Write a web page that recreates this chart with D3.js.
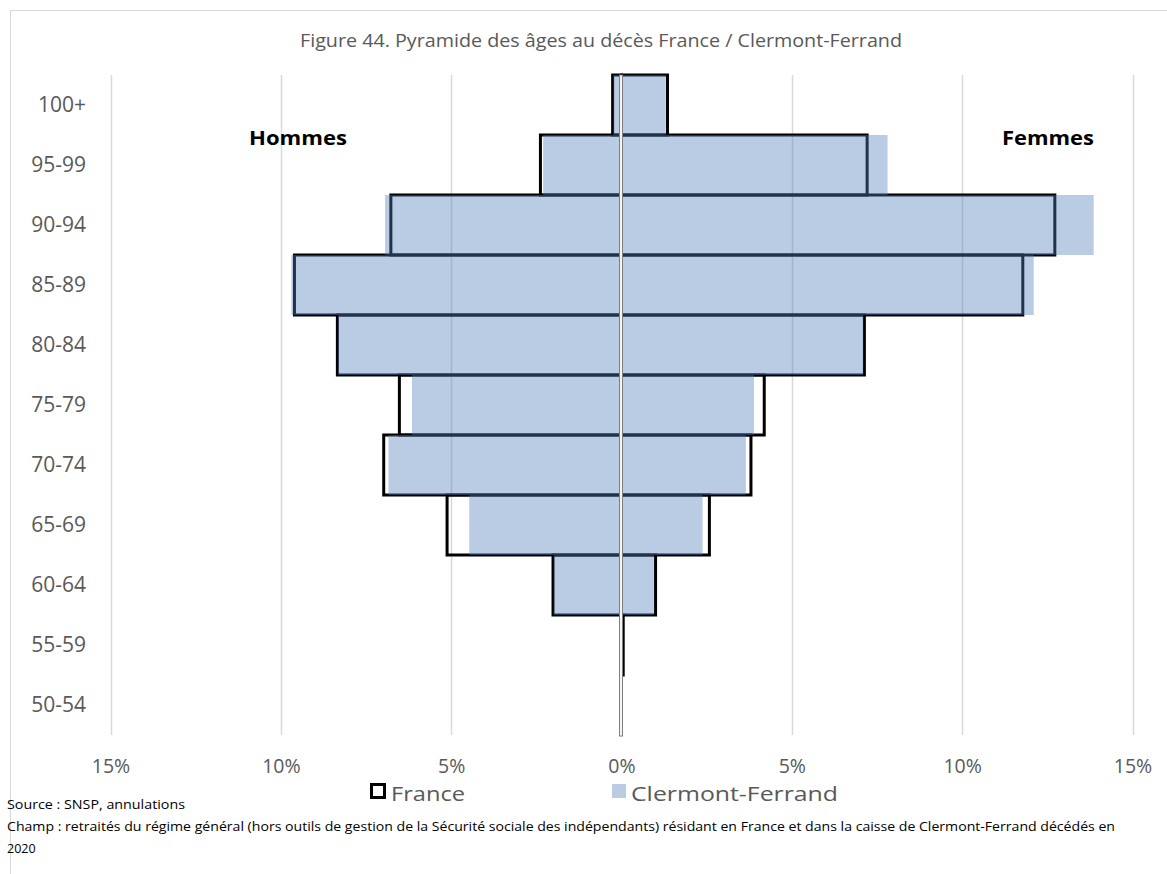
<!DOCTYPE html>
<html><head><meta charset="utf-8">
<script src="https://cdn.jsdelivr.net/npm/d3@7"></script>
<style>
html,body{margin:0;padding:0;background:#fff;overflow:hidden}
svg{display:block;font-family:"Open Sans",Lato,sans-serif}
</style></head>
<body>
<svg id="c" width="1167" height="874"></svg>
<script>
const categories = ["100+","95-99","90-94","85-89","80-84","75-79","70-74","65-69","60-64","55-59","50-54"];
const franceHommes = [0.26, 2.38, 6.77, 9.60, 8.34, 6.52, 6.98, 5.12, 2.01, 0.02, 0.00];
const franceFemmes = [1.35, 7.21, 12.72, 11.78, 7.13, 4.19, 3.80, 2.58, 1.00, 0.05, 0.00];
const clermontHommes = [0.24, 2.30, 6.94, 9.69, 8.32, 6.15, 6.84, 4.47, 1.99, 0.00, 0.00];
const clermontFemmes = [1.30, 7.81, 13.86, 12.10, 7.10, 3.89, 3.65, 2.38, 0.95, 0.00, 0.00];
const tickValues = [-15,-10,-5,0,5,10,15];
const title = "Figure 44. Pyramide des âges au décès France / Clermont-Ferrand";
const seriesNames = ["France","Clermont-Ferrand"];
const sideLabels = ["Hommes","Femmes"];
const sourceText = "Source : SNSP, annulations";
const champText = "Champ : retraités du régime général (hors outils de gestion de la Sécurité sociale des indépendants) résidant en France et dans la caisse de Clermont-Ferrand décédés en";
const champText2 = "2020";

const blue = "#5080BC", blueOp = 0.4;
const svg = d3.select("#c");
const x = d3.scaleLinear().domain([-15,15]).range([110.5,1132.5]);
const y = d3.scaleBand().domain(categories).range([75,735]).padding(0);

// frame
svg.append("rect").attr("x",10.5).attr("y",10.5).attr("width",1200).attr("height",1000)
  .attr("fill","none").attr("stroke","#d9d9d9").attr("stroke-width",1);

// title
svg.append("text").attr("x",601).attr("y",47).attr("text-anchor","middle")
  .attr("font-size",18.5).attr("fill","#595959")
  .attr("textLength",602).attr("lengthAdjust","spacingAndGlyphs").text(title);

// gridlines
svg.append("g").selectAll("line").data(tickValues.filter(d=>d!==0)).join("line")
  .attr("x1",d=>Math.round(x(d))+0.5).attr("x2",d=>Math.round(x(d))+0.5)
  .attr("y1",75).attr("y2",735).attr("stroke","#d9d9d9").attr("stroke-width",1.5);

// x axis tick labels
const xAxis = d3.axisBottom(x).tickValues(tickValues).tickSize(0).tickPadding(0)
  .tickFormat(d=>Math.abs(d)+"%");
const gx = svg.append("g").attr("transform","translate(0,773)").call(xAxis);
gx.select(".domain").remove();
gx.selectAll("text").attr("font-size",19.5).attr("fill","#595959")
  .attr("font-family","'Open Sans',sans-serif").attr("dy",0);

// y axis labels
const yAxis = d3.axisLeft(y).tickSize(0).tickPadding(0);
const gy = svg.append("g").attr("transform","translate(86,0)").call(yAxis);
gy.select(".domain").remove();
gy.selectAll("text").attr("font-size",21).attr("fill","#595959")
  .attr("font-family","'Open Sans',sans-serif");

// France bars (outline only)
const fr = categories.map((c,i)=>({c, h:franceHommes[i], f:franceFemmes[i]}));
const cl = categories.map((c,i)=>({c, h:clermontHommes[i], f:clermontFemmes[i]}));
const gF = svg.append("g");
gF.selectAll("rect.h").data(fr.filter(d=>d.h>0)).join("rect")
  .attr("x",d=>x(-d.h)).attr("width",d=>x(0)-x(-d.h))
  .attr("y",d=>y(d.c)).attr("height",y.bandwidth())
  .attr("fill","none").attr("stroke","#000").attr("stroke-width",3);
gF.selectAll("rect.f").data(fr.filter(d=>d.f>0)).join("rect")
  .attr("x",x(0)).attr("width",d=>x(d.f)-x(0))
  .attr("y",d=>y(d.c)).attr("height",y.bandwidth())
  .attr("fill","none").attr("stroke","#000").attr("stroke-width",3);

// Clermont bars
const gC = svg.append("g");
gC.selectAll("rect.h").data(cl.filter(d=>d.h>0)).join("rect")
  .attr("x",d=>x(-d.h)).attr("width",d=>x(0)-x(-d.h))
  .attr("y",d=>y(d.c)).attr("height",y.bandwidth())
  .attr("fill",blue).attr("fill-opacity",blueOp);
gC.selectAll("rect.f").data(cl.filter(d=>d.f>0)).join("rect")
  .attr("x",x(0)).attr("width",d=>x(d.f)-x(0))
  .attr("y",d=>y(d.c)).attr("height",y.bandwidth())
  .attr("fill",blue).attr("fill-opacity",blueOp);

// centre axis line
svg.append("rect").attr("x",x(0)-2).attr("y",75).attr("width",3).attr("height",661)
  .attr("fill","#f4f4f4").attr("stroke","#7f7f7f").attr("stroke-width",1);

// side labels
svg.append("text").attr("x",298).attr("y",145).attr("text-anchor","middle")
  .attr("font-size",20).attr("font-weight","bold").attr("fill","#000")
  .attr("textLength",98).attr("lengthAdjust","spacingAndGlyphs").text(sideLabels[0]);
svg.append("text").attr("x",1048).attr("y",145).attr("text-anchor","middle")
  .attr("font-size",20).attr("font-weight","bold").attr("fill","#000")
  .attr("textLength",92).attr("lengthAdjust","spacingAndGlyphs").text(sideLabels[1]);

// legend
const lg = svg.append("g");
lg.append("rect").attr("x",371.5).attr("y",784.5).attr("width",13).attr("height",13)
  .attr("fill","#fff").attr("stroke","#000").attr("stroke-width",3);
lg.append("text").attr("x",391).attr("y",801).attr("font-size",20.5).attr("fill","#595959")
  .attr("textLength",74).attr("lengthAdjust","spacingAndGlyphs").text(seriesNames[0]);
lg.append("rect").attr("x",612).attr("y",784).attr("width",14).attr("height",14)
  .attr("fill",blue).attr("fill-opacity",blueOp);
lg.append("text").attr("x",631).attr("y",801).attr("font-size",20.5).attr("fill","#595959")
  .attr("textLength",207).attr("lengthAdjust","spacingAndGlyphs").text(seriesNames[1]);

// footer
svg.append("text").attr("x",7).attr("y",809).attr("font-size",12).attr("fill","#000")
  .attr("textLength",178).attr("lengthAdjust","spacingAndGlyphs").text(sourceText);
svg.append("text").attr("x",7).attr("y",831).attr("font-size",12.5).attr("fill","#000")
  .attr("textLength",1108).attr("lengthAdjust","spacingAndGlyphs").text(champText);
svg.append("text").attr("x",7).attr("y",853).attr("font-size",12.5).attr("fill","#000").text(champText2);
</script>
</body></html>
